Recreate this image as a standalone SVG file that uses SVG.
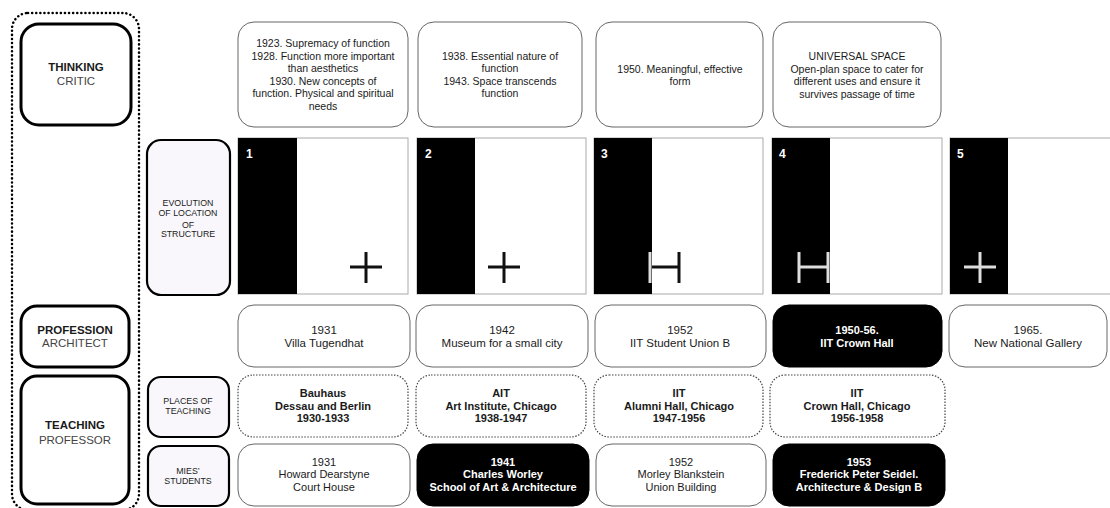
<svg xmlns="http://www.w3.org/2000/svg" width="1110" height="508" viewBox="0 0 1110 508">
<style>
text{font-family:"Liberation Sans",Arial,sans-serif;text-anchor:middle;fill:#1a1a1a}
.lab{fill:#fff;stroke:#000;stroke-width:3}
.sub{fill:#f9f7fb;stroke:#000;stroke-width:2.2}
.note{fill:#fff;stroke:#666;stroke-width:1}
.dot{fill:#fff;stroke:#444;stroke-width:1.2;stroke-dasharray:1.5 1.5}
.blk{fill:#000;stroke:#000;stroke-width:1}
.t10{font-size:10.5px}
.p{font-size:11.5px}
.s{font-size:11px}
.b10{font-size:11px;font-weight:bold}
.w{fill:#fff}
.big{font-size:11.5px;font-weight:bold}
.bigs{font-size:11.5px;fill:#444}
.sm{font-size:8.8px;fill:#222}
.num{font-size:12px;font-weight:bold;fill:#fff;text-anchor:start}
.frame{fill:#fff;stroke:#aaa;stroke-width:1}
.bar{fill:#000}
.k{stroke:#111;stroke-width:3}
.g{stroke:#ddd;stroke-width:3}
</style>

<rect x="12" y="13" width="127" height="497" rx="16" fill="none" stroke="#000" stroke-width="2.5" stroke-dasharray="0.1 4" stroke-linecap="round"/>

<g id="thinking"><rect class="lab" x="21" y="24" width="110" height="101" rx="18"/><text class="big" x="76" y="71">THINKING</text><text class="bigs" x="76" y="85">CRITIC</text></g>
<g id="profession"><rect class="lab" x="21" y="306" width="108" height="61" rx="16"/><text class="big" x="75" y="334">PROFESSION</text><text class="bigs" x="75" y="347">ARCHITECT</text></g>
<g id="teaching"><rect class="lab" x="21" y="376" width="108" height="128" rx="16"/><text class="big" x="75" y="429">TEACHING</text><text class="bigs" x="75" y="444">PROFESSOR</text></g>

<g id="evolution"><rect class="sub" x="147" y="140" width="83" height="155" rx="14"/><text class="sm" x="188" y="206">EVOLUTION</text><text class="sm" x="188" y="216">OF LOCATION</text><text class="sm" x="188" y="228">OF</text><text class="sm" x="188" y="237">STRUCTURE</text></g>
<g id="places"><rect class="sub" x="148" y="377" width="81" height="60" rx="13"/><text class="sm" x="188" y="404">PLACES OF</text><text class="sm" x="188" y="414">TEACHING</text></g>
<g id="students"><rect class="sub" x="148" y="446" width="81" height="60" rx="13"/><text class="sm" x="188" y="474">MIES’</text><text class="sm" x="188" y="484">STUDENTS</text></g>

<g id="idea1"><rect class="note" x="238" y="22" width="170" height="105" rx="16"/>
<text class="t10" x="323" y="47">1923. Supremacy of function</text><text class="t10" x="323" y="60">1928. Function more important</text><text class="t10" x="323" y="72">than aesthetics</text><text class="t10" x="323" y="85">1930. New concepts of</text><text class="t10" x="323" y="97">function. Physical and spiritual</text><text class="t10" x="323" y="110">needs</text></g>
<g id="idea2"><rect class="note" x="418" y="22" width="164" height="105" rx="16"/>
<text class="t10" x="500" y="60">1938. Essential nature of</text><text class="t10" x="500" y="72">function</text><text class="t10" x="500" y="85">1943. Space transcends</text><text class="t10" x="500" y="97">function</text></g>
<g id="idea3"><rect class="note" x="596" y="22" width="167" height="105" rx="16"/>
<text class="t10" x="680" y="73">1950. Meaningful, effective</text><text class="t10" x="680" y="85">form</text></g>
<g id="idea4"><rect class="note" x="773" y="22" width="168" height="105" rx="16"/>
<text class="t10" x="857" y="60">UNIVERSAL SPACE</text><text class="t10" x="857" y="73">Open-plan space to cater for</text><text class="t10" x="857" y="85">different uses and ensure it</text><text class="t10" x="857" y="98">survives passage of time</text></g>

<g id="evo1"><rect class="frame" x="238" y="138" width="170" height="156"/><rect class="bar" x="238" y="138" width="59" height="156"/><text class="num" x="246" y="158">1</text>
<line class="k" x1="350" y1="267" x2="382" y2="267"/><line class="k" x1="366" y1="252" x2="366" y2="283"/></g>
<g id="evo2"><rect class="frame" x="417" y="138" width="169" height="156"/><rect class="bar" x="417" y="138" width="58" height="156"/><text class="num" x="425" y="158">2</text>
<line class="k" x1="488" y1="267" x2="520" y2="267"/><line class="k" x1="504" y1="252" x2="504" y2="283"/></g>
<g id="evo3"><rect class="frame" x="594" y="138" width="169" height="156"/><rect class="bar" x="594" y="138" width="58" height="156"/><text class="num" x="601" y="158">3</text>
<line class="k" x1="651" y1="267" x2="679" y2="267"/><line class="k" x1="679" y1="252" x2="679" y2="283"/><line class="g" x1="650" y1="252" x2="650" y2="283"/></g>
<g id="evo4"><rect class="frame" x="772" y="138" width="170" height="156"/><rect class="bar" x="772" y="138" width="58" height="156"/><text class="num" x="779" y="158">4</text>
<line class="g" x1="799" y1="267" x2="828" y2="267"/><line class="g" x1="799" y1="252" x2="799" y2="283"/><line class="g" x1="828" y1="252" x2="828" y2="283"/></g>
<g id="evo5"><rect class="frame" x="950" y="138" width="170" height="156"/><rect class="bar" x="950" y="138" width="58" height="156"/><text class="num" x="957" y="158">5</text>
<line class="g" x1="964" y1="267" x2="996" y2="267"/><line class="g" x1="980" y1="252" x2="980" y2="283"/></g>

<g id="work1"><rect class="note" x="238" y="305" width="172" height="62" rx="16"/><text class="p" x="324" y="334">1931</text><text class="p" x="324" y="347">Villa Tugendhat</text></g>
<g id="work2"><rect class="note" x="416" y="305" width="172" height="62" rx="16"/><text class="p" x="502" y="334">1942</text><text class="p" x="502" y="347">Museum for a small city</text></g>
<g id="work3"><rect class="note" x="595" y="305" width="171" height="62" rx="16"/><text class="p" x="680" y="334">1952</text><text class="p" x="680" y="347">IIT Student Union B</text></g>
<g id="work4"><rect class="blk" x="773" y="305" width="169" height="62" rx="16"/><text class="b10 w" x="857" y="334">1950-56.</text><text class="b10 w" x="857" y="347">IIT Crown Hall</text></g>
<g id="work5"><rect class="note" x="949" y="305" width="158" height="62" rx="16"/><text class="p" x="1028" y="334">1965.</text><text class="p" x="1028" y="347">New National Gallery</text></g>

<g id="place1"><rect class="dot" x="238" y="375" width="170" height="62" rx="15"/><text class="b10" x="323" y="397">Bauhaus</text><text class="b10" x="323" y="410">Dessau and Berlin</text><text class="b10" x="323" y="422">1930-1933</text></g>
<g id="place2"><rect class="dot" x="416" y="375" width="170" height="62" rx="15"/><text class="b10" x="501" y="397">AIT</text><text class="b10" x="501" y="410">Art Institute, Chicago</text><text class="b10" x="501" y="422">1938-1947</text></g>
<g id="place3"><rect class="dot" x="594" y="375" width="169" height="62" rx="15"/><text class="b10" x="679" y="397">IIT</text><text class="b10" x="679" y="410">Alumni Hall, Chicago</text><text class="b10" x="679" y="422">1947-1956</text></g>
<g id="place4"><rect class="dot" x="770" y="375" width="175" height="62" rx="15"/><text class="b10" x="857" y="397">IIT</text><text class="b10" x="857" y="410">Crown Hall, Chicago</text><text class="b10" x="857" y="422">1956-1958</text></g>

<g id="stud1"><rect class="note" x="238" y="444" width="172" height="62" rx="16"/><text class="s" x="324" y="466">1931</text><text class="s" x="324" y="478">Howard Dearstyne</text><text class="s" x="324" y="491">Court House</text></g>
<g id="stud2"><rect class="blk" x="417" y="444" width="172" height="62" rx="16"/><text class="b10 w" x="503" y="466">1941</text><text class="b10 w" x="503" y="478">Charles Worley</text><text class="b10 w" x="503" y="491">School of Art &amp; Architecture</text></g>
<g id="stud3"><rect class="note" x="596" y="444" width="170" height="62" rx="16"/><text class="s" x="681" y="466">1952</text><text class="s" x="681" y="478">Morley Blankstein</text><text class="s" x="681" y="491">Union Building</text></g>
<g id="stud4"><rect class="blk" x="773" y="444" width="172" height="62" rx="16"/><text class="b10 w" x="859" y="466">1953</text><text class="b10 w" x="859" y="478">Frederick Peter Seidel.</text><text class="b10 w" x="859" y="491">Architecture &amp; Design B</text></g>

<g id="connectors"></g>
</svg>
